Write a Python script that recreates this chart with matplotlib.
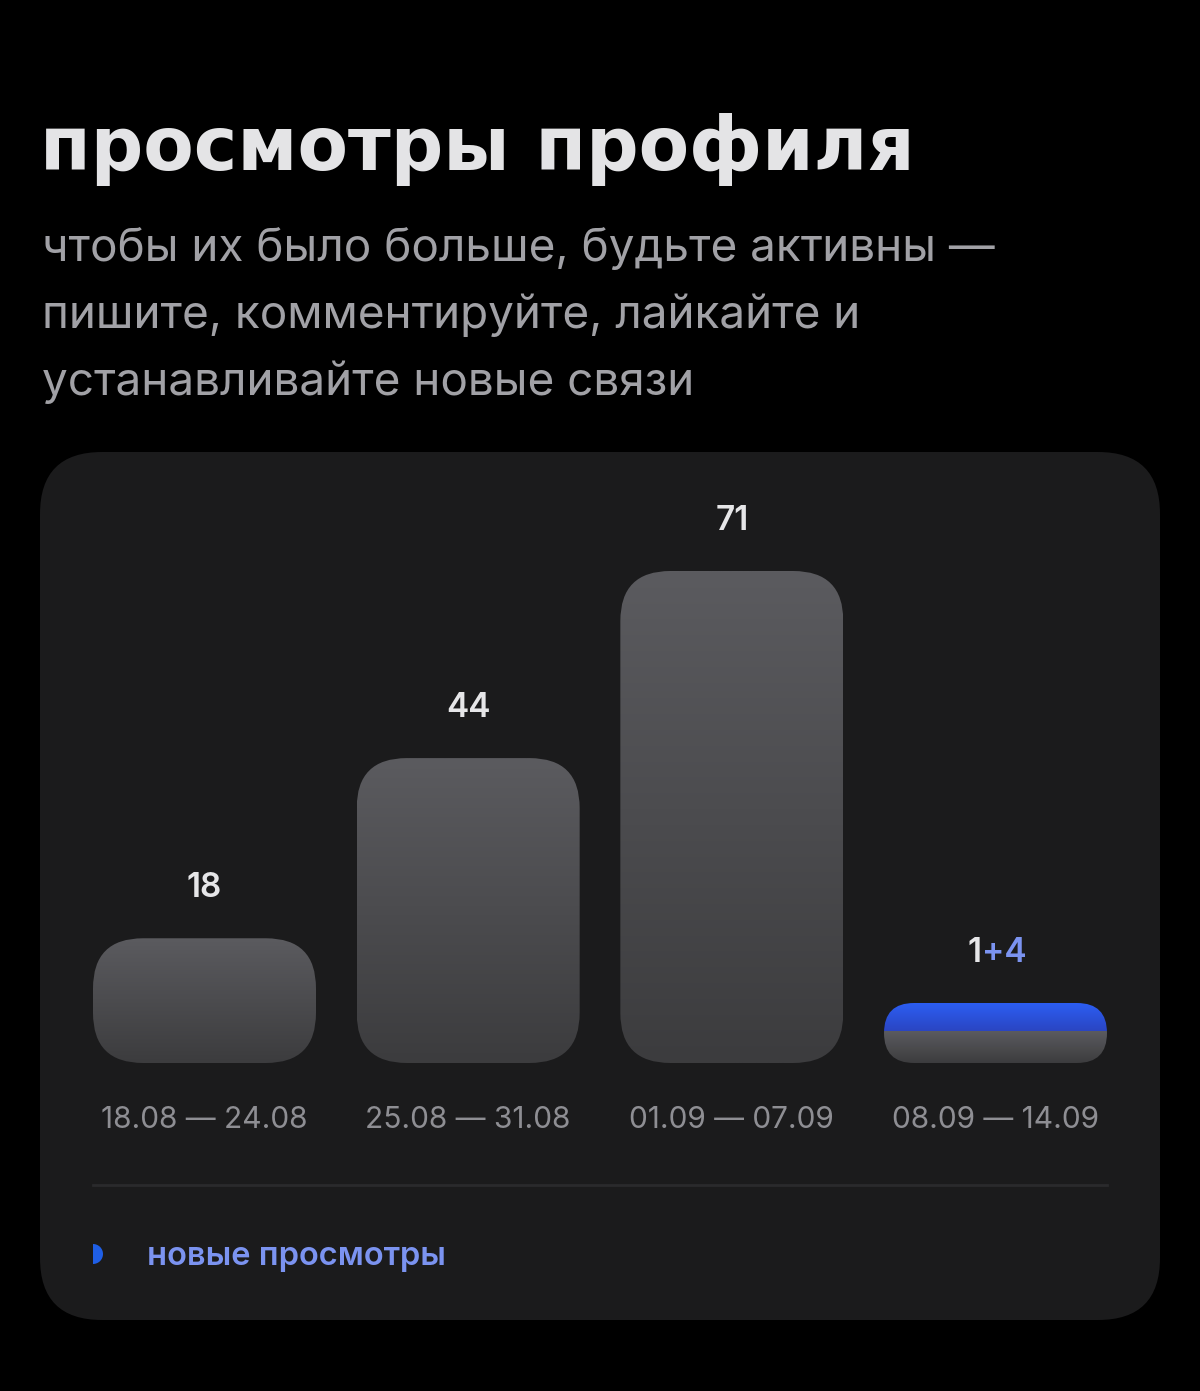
import matplotlib.pyplot as plt
import numpy as np
from matplotlib.patches import FancyBboxPatch, Wedge
from matplotlib.colors import LinearSegmentedColormap
from matplotlib.transforms import offset_copy

# данные
weeks = ['18.08 — 24.08', '25.08 — 31.08', '01.09 — 07.09', '08.09 — 14.09']
old_views = [18, 44, 71, 1]
new_views = [0, 0, 0, 4]

title = 'просмотры профиля'
subtitle = ['чтобы их было больше, будьте активны —',
            'пишите, комментируйте, лайкайте и',
            'устанавливайте новые связи']
legend_label = 'новые просмотры'

W, H = 1200, 1391
fig = plt.figure(figsize=(W / 100, H / 100), dpi=100)
fig.patch.set_facecolor('black')

# фон и карточка в пиксельных координатах
bg = fig.add_axes([0, 0, 1, 1])
bg.set_xlim(0, W)
bg.set_ylim(H, 0)
bg.axis('off')
card = FancyBboxPatch((40, 452), 1120, 868, boxstyle='round,pad=0,rounding_size=62',
                      fc='#1b1b1c', ec='none')
bg.add_patch(card)

bg.text(40, 150, title, fontsize=53, fontweight='bold', family=['DejaVu Sans'],
        color='#e4e4e6', va='center', ha='left')
for i, line in enumerate(subtitle):
    bg.text(42, 248 + i * 67, line, fontsize=33, family=['Inter', 'DejaVu Sans'],
            color='#a1a1a6', va='center', ha='left')

bg.plot([93, 1107], [1185, 1185], color='#2a2a2c', lw=2)
bg.add_patch(Wedge((93, 1254), 10, -90, 90, fc='#1f5fe6', ec='none'))
bg.text(147, 1257, legend_label, fontsize=23.5, fontweight='semibold',
        family=['Inter', 'DejaVu Sans'], color='#7b93f0', va='center', ha='left')

# столбцы
ax = fig.add_axes([93 / W, (H - 1063) / H, 1014 / W, 492 / H])
ax.axis('off')
bw = 223 / 263.67
x = np.arange(len(weeks))
totals = [o + n for o, n in zip(old_views, new_views)]
ymax = max(totals)
ax.set_xlim(-bw / 2, len(weeks) - 1 + bw / 2)
ax.set_ylim(0, ymax)

px_x = (len(weeks) - 1 + bw) / 1014
px_y = ymax / 492
aspect = px_y / px_x
min_h = 60 * px_y
new_cap = 28 * px_y

grey = LinearSegmentedColormap.from_list('g', ['#3c3c3e', '#5b5b5f'])
blue = LinearSegmentedColormap.from_list('b', ['#2a45c2', '#2c5ef3'])
grad = np.linspace(0, 1, 256).reshape(-1, 1)

for xi, o, n, lab in zip(x, old_views, new_views, weeks):
    h = max(o + n, min_h)
    h_px = h / px_y
    r = min(50, h_px / 2) * px_x
    patch = FancyBboxPatch((xi - bw / 2, 0), bw, h,
                           boxstyle=f'round,pad=0,rounding_size={r}',
                           mutation_aspect=aspect, fc='none', ec='none')
    ax.add_patch(patch)
    top_grey = h - new_cap if n > 0 else h
    im = ax.imshow(grad, cmap=grey, origin='lower', aspect='auto',
                   extent=[xi - bw / 2, xi + bw / 2, 0, top_grey])
    im.set_clip_path(patch)
    if n > 0:
        im2 = ax.imshow(grad, cmap=blue, origin='lower', aspect='auto',
                        extent=[xi - bw / 2, xi + bw / 2, top_grey, h])
        im2.set_clip_path(patch)
        t1 = offset_copy(ax.transData, fig=fig, x=-14, y=50, units='dots')
        ax.text(xi, h, str(o), transform=t1, ha='right', va='center', fontsize=24,
                fontweight='semibold', family=['Inter', 'DejaVu Sans'], color='#e6e6e8')
        ax.text(xi, h, f'+{n}', transform=t1, ha='left', va='center', fontsize=24,
                fontweight='semibold', family=['Inter', 'DejaVu Sans'], color='#7b93f0')
    else:
        ax.annotate(str(o), (xi, h), xytext=(0, 36), textcoords='offset points',
                    ha='center', va='center', fontsize=24, fontweight='semibold',
                    family=['Inter', 'DejaVu Sans'], color='#e6e6e8')
    ax.annotate(lab, (xi, 0), xytext=(0, -41), textcoords='offset points',
                ha='center', va='center', fontsize=21.5,
                family=['Inter', 'DejaVu Sans'], color='#8e8e93', annotation_clip=False)

ax.set_xlim(-bw / 2, len(weeks) - 1 + bw / 2)
ax.set_ylim(0, ymax)

fig.savefig('out.png', dpi=100, facecolor='black')
